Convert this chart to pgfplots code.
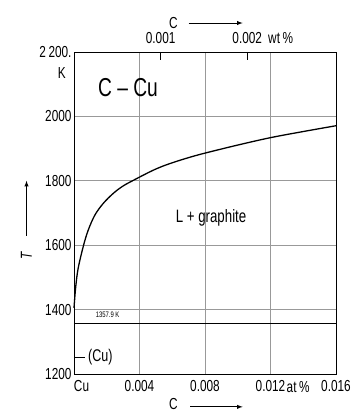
\documentclass[border=0pt]{standalone}
\usepackage{fontspec}
\setmainfont{Liberation Sans}[FakeStretch=0.74]
\usepackage{pgfplots}
\pgfplotsset{compat=1.18}
\begin{document}
\begin{tikzpicture}
\path[use as bounding box] (-74bp,-40bp) rectangle (290bp,374bp);
\begin{axis}[
  scale only axis, width=262bp, height=322bp,
  xmin=0, xmax=0.016, ymin=1200, ymax=2200,
  scaled x ticks=false,
  xtick={0,0.004,0.008,0.012,0.016},
  xticklabels={{\makebox[0pt][l]{Cu}},0.004,0.008,{0.012\hspace{8bp}},0.016},
  ytick={1200,1400,1600,1800,2000,2200},
  yticklabels={1200,1400,1600,1800,2000,{2\,200.}},
  /pgf/number format/assume math mode=true,
  tick label style={font=\fontsize{16}{18}\selectfont},
  xticklabel style={yshift=-3bp},
  yticklabel style={xshift=1bp},
  major tick length=0pt,
  grid=major,
  grid style={gray!80, line width=0.6pt},
  axis line style={line width=0.9pt},
  clip=false,
]
\addplot[black, line width=1.3pt, smooth, tension=0.55] coordinates {
(0,1405) (0.0001,1468) (0.00025,1527) (0.00057,1597)
(0.00087,1647) (0.00128,1694) (0.00179,1730) (0.0024,1761) (0.0030,1784)
(0.00372,1804) (0.00464,1828) (0.00525,1842) (0.006,1856) (0.007,1872)
(0.008,1886) (0.010,1911) (0.012,1934) (0.014,1953) (0.016,1971)};
\addplot[black, line width=1.3pt] coordinates {(0,1357.9) (0.016,1357.9)};
% top wt% ticks
\draw[line width=0.8pt] (axis cs:0.00529,2200) -- (axis cs:0.00529,2175);
\draw[line width=0.8pt] (axis cs:0.01058,2200) -- (axis cs:0.01058,2175);
\node[font=\fontsize{16}{18}\selectfont, anchor=base] at (axis cs:0.00529,2225) {0.001};
\node[font=\fontsize{16}{18}\selectfont, anchor=base] at (axis cs:0.01058,2225) {0.002};
\node[font=\fontsize{16}{18}\selectfont, anchor=base west, inner sep=0pt] at (axis cs:0.01185,2225) {wt\,\%};
\node[font=\fontsize{16}{18}\selectfont, anchor=base west, inner sep=0pt] at (axis cs:0.01298,1143) {at\,\%};
\node[font=\fontsize{16}{18}\selectfont] at (axis cs:-0.00075,2135) {K};
% C arrows
\node[font=\fontsize{16}{18}\selectfont] at (axis cs:0.00607,2290) {C};
\draw[-latex, line width=0.9pt] (axis cs:0.0070,2290) -- (axis cs:0.0103,2290);
\node[font=\fontsize{16}{18}\selectfont] at (axis cs:0.00607,1106) {C};
\draw[-latex, line width=0.9pt] (axis cs:0.0071,1098) -- (axis cs:0.0103,1098);
% T arrow
\node[font=\fontsize{16}{18}\selectfont\itshape, rotate=90] at (axis cs:-0.00290,1567) {T};
\draw[-latex, line width=0.9pt] (axis cs:-0.00290,1630) -- (axis cs:-0.00290,1800);
% labels
\node[font=\fontsize{26}{28}\selectfont] at (axis cs:0.0033,2088) {C -- Cu};
\node[font=\fontsize{18}{20}\selectfont] at (axis cs:0.00837,1684) {L + graphite};
\node[font=\fontsize{8}{9}\selectfont, fill=white, inner sep=1.5pt] at (axis cs:0.00205,1384) {1357.9 K};
\node[font=\fontsize{17}{19}\selectfont, anchor=west] at (axis cs:0.00065,1253) {(Cu)};
\draw[line width=0.8pt] (axis cs:0,1253) -- (axis cs:0.0007,1253);
\end{axis}
\end{tikzpicture}
\end{document}
